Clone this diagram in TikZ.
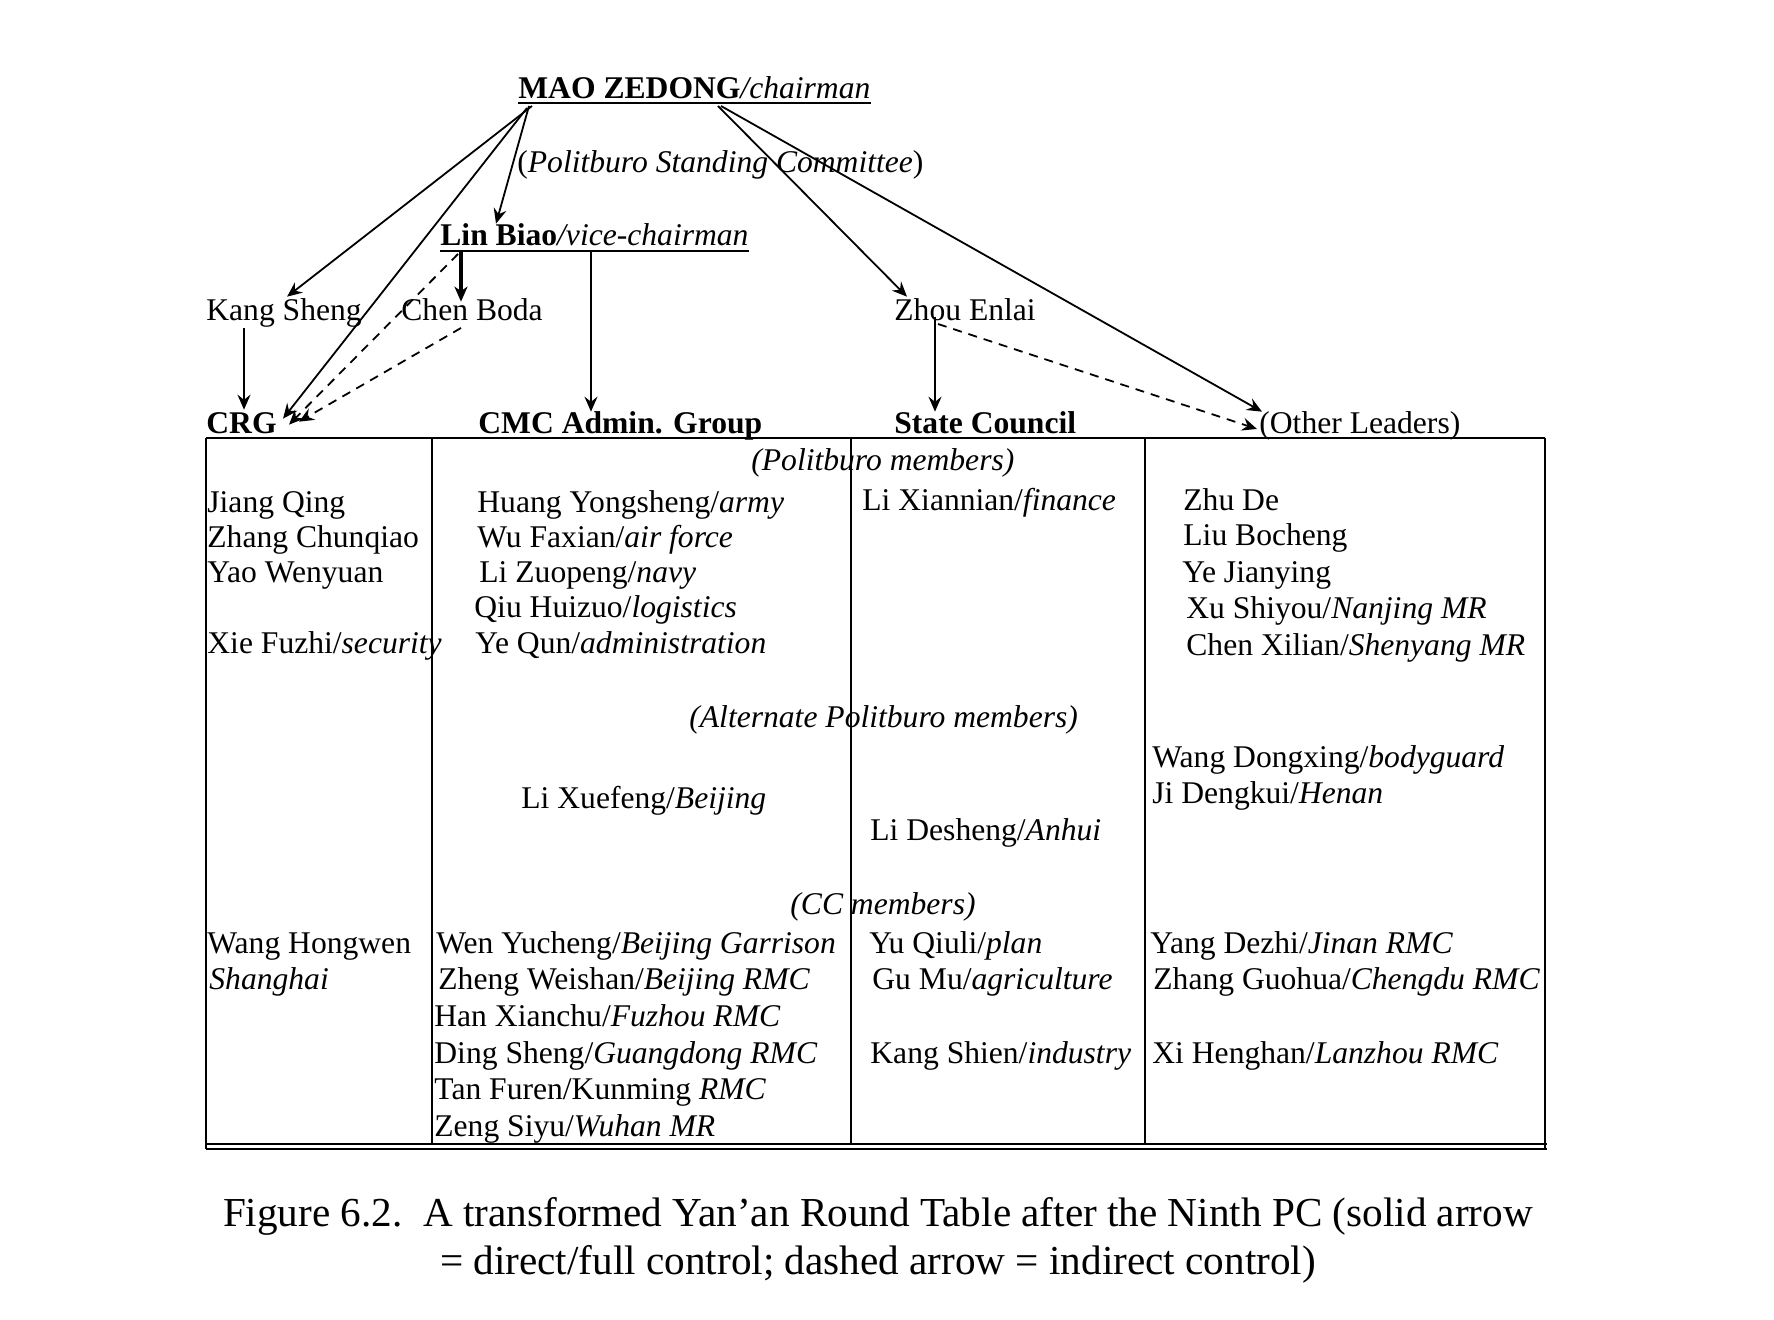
\documentclass[tikz,border=0pt]{standalone}
\usepackage{fontspec}
\setmainfont{Liberation Serif}
\usetikzlibrary{arrows.meta,calc}
\begin{document}
\begin{tikzpicture}[x=0.5pt,y=-0.5pt,
  txt/.style={anchor=base west, inner sep=0pt, font=\fontsize{15.8pt}{18pt}\selectfont},
  captxt/.style={anchor=base, inner sep=0pt, font=\fontsize{20.6pt}{24pt}\selectfont},
  arr/.style={-{Stealth[length=7.5pt,width=6.5pt,inset=2.6pt]}, line width=0.9pt},
  thickarr/.style={-{Stealth[length=7.5pt,width=6.5pt,inset=2.2pt]}, line width=1.7pt},
  dasharr/.style={arr, dash pattern=on 4.5pt off 3.5pt},
  rulel/.style={line width=1.2pt},
  uline/.style={line width=1.1pt}]
\useasboundingbox (0,0) rectangle (1774,1320);

% ---------- top hierarchy ----------
\node[txt] (mao) at (518,99) {\textbf{MAO ZEDONG}\textit{/chairman}};
\node[txt] (psc) at (517,173) {(\textit{Politburo Standing Committee})};
\node[txt] (lin) at (440,246) {\textbf{Lin Biao}\textit{/vice-chairman}};
\node[txt] (kang) at (206,321) {Kang Sheng};
\node[txt] (chen) at (401,321) {Chen Boda};
\node[txt] (zhou) at (894,321) {Zhou Enlai};
\node[txt] (crg) at (206,434) {\textbf{CRG}};
\node[txt] (cmc) at (478,434) {\textbf{CMC Admin. Group}};
\node[txt] (sc) at (894,434) {\textbf{State Council}};
\node[txt] (other) at (1259,434) {(Other Leaders)};

% underlines
\draw[uline] ([yshift=-2pt]mao.base west) -- ([yshift=-2pt]mao.base east);
\draw[uline] ([yshift=-2.5pt]lin.base west) -- ([yshift=-2.5pt]lin.base east);

% arrows
\draw[arr] ([xshift=7pt,yshift=-3.5pt]mao.base west) -- ([xshift=1.5pt,yshift=1pt]kang.north);
\draw[arr] ([xshift=4.5pt,yshift=-4.5pt]mao.base west) -- ([xshift=3pt,yshift=-3pt]crg.north east);
\draw[arr] ([xshift=5.5pt,yshift=-3.5pt]mao.base west) -- ([xshift=28pt]lin.north west);
\draw[arr] ([xshift=100pt,yshift=-3.5pt]mao.base west) -- ([xshift=6.5pt,yshift=1pt]zhou.north west);
\draw[arr] ([xshift=101.5pt,yshift=-3.5pt]mao.base west) -- ([xshift=1.5pt]other.north west);

\draw[thickarr] ([xshift=10.5pt,yshift=-3pt]lin.base west) -- ([xshift=30pt,yshift=-1.5pt]chen.north west);
\draw[arr] ([xshift=75.5pt,yshift=-3pt]lin.base west) -- ([xshift=56.5pt]cmc.north west);
\draw[dasharr] ([xshift=9pt,yshift=-4pt]lin.base west) -- ([xshift=6pt,yshift=-6pt]crg.north east);
\draw[dasharr] ([xshift=30pt,yshift=-3.5pt]chen.base west) -- ([xshift=11pt,yshift=-4.5pt]crg.north east);
\draw[arr] ([xshift=19pt]kang.south west) -- ([xshift=19pt,yshift=1.5pt]crg.north west);
\draw[arr] ([xshift=20.5pt,yshift=2pt]zhou.base west) -- ([xshift=20.5pt]sc.north west);
\draw[dasharr] ([xshift=22pt,yshift=-1.5pt]zhou.base west) -- ([xshift=-1pt,yshift=2.5pt]other.base west);

% ---------- table frame ----------
\draw[rulel] (206,438) -- (1545,438);
\draw[rulel] (206,438) -- (206,1149);
\draw[rulel] (1545,438) -- (1545,1149);
\draw[rulel] (432,438) -- (432,1144);
\draw[rulel] (851,438) -- (851,1144);
\draw[rulel] (1145,438) -- (1145,1144);
\draw[rulel] (206,1144) -- (1547,1144);
\draw[rulel] (206,1149) -- (1547,1149);

% ---------- section labels ----------
\node[txt] (pbm) at (751,471) {\textit{(Politburo members)}};
\node[txt] (apbm) at (689,728) {\textit{(Alternate Politburo members)}};
\node[txt] (ccm) at (790,914) {\textit{(CC members)}};

% ---------- column 1 ----------
\node[txt] (c1a) at (207,513) {Jiang Qing};
\node[txt] (c1b) at (207,548) {Zhang Chunqiao};
\node[txt] (c1c) at (207,583) {Yao Wenyuan};
\node[txt] (c1d) at (207,654) {Xie Fuzhi/\textit{security}};
\node[txt] (c1e) at (207,953) {Wang Hongwen};
\node[txt] (c1f) at (209,989) {\textit{Shanghai}};

% ---------- column 2 ----------
\node[txt] (c2a) at (477,513) {Huang Yongsheng/\textit{army}};
\node[txt] (c2b) at (477,548) {Wu Faxian/\textit{air force}};
\node[txt] (c2c) at (479,583) {Li Zuopeng/\textit{navy}};
\node[txt] (c2d) at (474,618) {Qiu Huizuo/\textit{logistics}};
\node[txt] (c2e) at (475,654) {Ye Qun/\textit{administration}};
\node[txt] (c2f) at (521,809) {Li Xuefeng/\textit{Beijing}};
\node[txt] (c2g) at (436,953) {Wen Yucheng/\textit{Beijing Garrison}};
\node[txt] (c2h) at (438,989) {Zheng Weishan/\textit{Beijing RMC}};
\node[txt] (c2i) at (434,1026) {Han Xianchu/\textit{Fuzhou RMC}};
\node[txt] (c2j) at (434,1063) {Ding Sheng/\textit{Guangdong RMC}};
\node[txt] (c2k) at (434,1099) {Tan Furen/Kunming \textit{RMC}};
\node[txt] (c2l) at (434,1136) {Zeng Siyu/\textit{Wuhan MR}};

% ---------- column 3 ----------
\node[txt] (c3a) at (862,511) {Li Xiannian/\textit{finance}};
\node[txt] (c3b) at (870,841) {Li Desheng/\textit{Anhui}};
\node[txt] (c3c) at (869,953) {Yu Qiuli/\textit{plan}};
\node[txt] (c3d) at (872,989) {Gu Mu/\textit{agriculture}};
\node[txt] (c3e) at (870,1063) {Kang Shien/\textit{industry}};

% ---------- column 4 ----------
\node[txt] (c4a) at (1183,511) {Zhu De};
\node[txt] (c4b) at (1183,546) {Liu Bocheng};
\node[txt] (c4c) at (1182,583) {Ye Jianying};
\node[txt] (c4d) at (1186,619) {Xu Shiyou/\textit{Nanjing MR}};
\node[txt] (c4e) at (1186,656) {Chen Xilian/\textit{Shenyang MR}};
\node[txt] (c4f) at (1152,768) {Wang Dongxing/\textit{bodyguard}};
\node[txt] (c4g) at (1152,804) {Ji Dengkui/\textit{Henan}};
\node[txt] (c4h) at (1150,953) {Yang Dezhi/\textit{Jinan RMC}};
\node[txt] (c4i) at (1153,989) {Zhang Guohua/\textit{Chengdu RMC}};
\node[txt] (c4j) at (1152,1063) {Xi Henghan/\textit{Lanzhou RMC}};

% ---------- caption ----------
\node[captxt] (cap1) at (878,1226) {Figure 6.2.\ \ A transformed Yan’an Round Table after the Ninth PC (solid arrow};
\node[captxt] (cap2) at (878,1274) {= direct/full control; dashed arrow = indirect control)};
\end{tikzpicture}
\end{document}
